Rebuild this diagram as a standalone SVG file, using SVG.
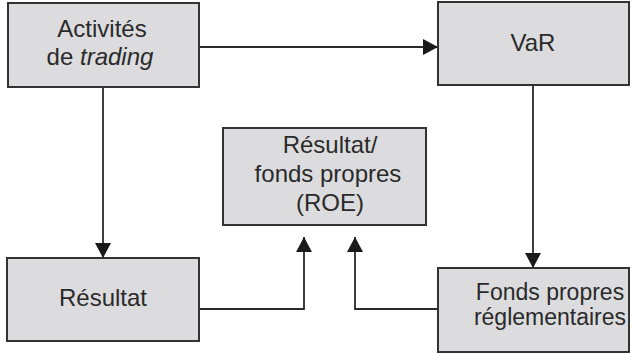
<svg xmlns="http://www.w3.org/2000/svg" width="633" height="353" viewBox="0 0 633 353">
<style>
.box{fill:#dcdcde;stroke:#333;stroke-width:2}
.t{font-family:"Liberation Sans",Arial,sans-serif;font-size:24px;fill:#2a2a2a;text-anchor:middle}
.s{font-size:23px}
.c{fill:none;stroke:#2a2a2a;stroke-width:1.8}
</style>
<defs>
<marker id="ah" markerWidth="16" markerHeight="16" viewBox="0 0 16 16" refX="15" refY="8" orient="auto" markerUnits="userSpaceOnUse">
<path d="M0,0 L15,8 L0,16 Z" fill="#1a1a1a"/>
</marker>
</defs>
<rect width="633" height="353" fill="#fff"/>
<g id="connectors">
<line class="c" x1="199" y1="47" x2="438" y2="47" marker-end="url(#ah)"/>
<line class="c" x1="533" y1="85" x2="533" y2="268" marker-end="url(#ah)"/>
<line class="c" x1="103" y1="87" x2="103" y2="258" marker-end="url(#ah)"/>
<polyline class="c" points="199,309 304,309 304,237" marker-end="url(#ah)"/>
<polyline class="c" points="438,309 355,309 355,237" marker-end="url(#ah)"/>
</g>
<g id="activites">
<rect class="box" x="8" y="3" width="191" height="84"/>
<text class="t" x="102" y="37">Activités</text>
<text class="t" x="100" y="65">de <tspan font-style="italic">trading</tspan></text>
</g>
<g id="var">
<rect class="box" x="438" y="2" width="191" height="83"/>
<text class="t" x="533" y="51">VaR</text>
</g>
<g id="roe">
<rect class="box" x="223" y="128" width="203" height="97"/>
<text class="t" x="330" y="153">Résultat/</text>
<text class="t" x="328" y="182">fonds propres</text>
<text class="t" x="330" y="211">(ROE)</text>
</g>
<g id="resultat">
<rect class="box" x="7" y="258" width="192" height="83"/>
<text class="t" x="103" y="306">Résultat</text>
</g>
<g id="fonds">
<rect class="box" x="438" y="268" width="191" height="84"/>
<text class="t s" x="550" y="300">Fonds propres</text>
<text class="t s" x="550" y="325">réglementaires</text>
</g>
</svg>
